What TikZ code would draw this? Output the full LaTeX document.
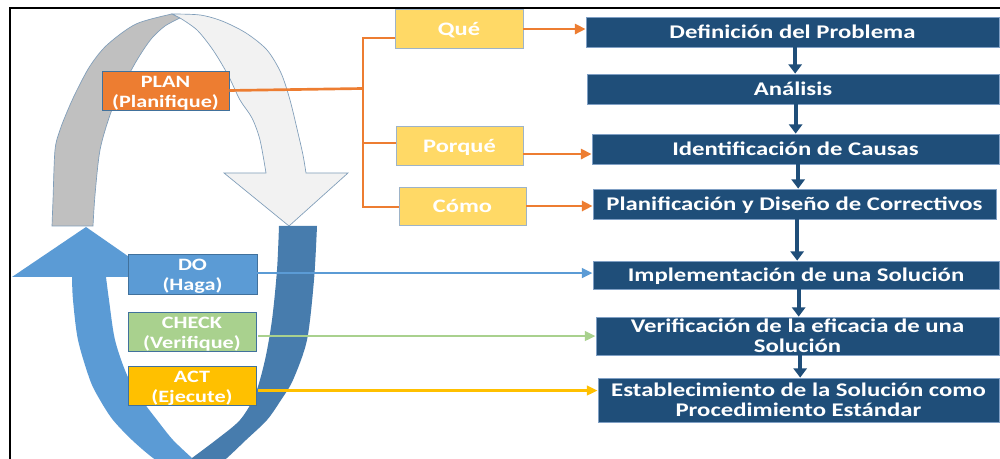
\documentclass[tikz,border=0pt]{standalone}
\usepackage{fontspec}
\setmainfont{Carlito}[FakeStretch=1.28]
\usetikzlibrary{arrows.meta,calc}
\definecolor{orng}{HTML}{ED7D31}
\definecolor{ylw}{HTML}{FFD966}
\definecolor{yedge}{HTML}{9DB3C8}
\definecolor{navy}{HTML}{1F4E79}
\definecolor{navyedge}{HTML}{7F9FC4}
\definecolor{dofill}{HTML}{5B9BD5}
\definecolor{chkfill}{HTML}{A9D18E}
\definecolor{actfill}{HTML}{FFC000}
\definecolor{pedge}{HTML}{41719C}
\definecolor{archgrey}{HTML}{C0C0C0}
\definecolor{archlight}{HTML}{F2F2F2}
\definecolor{archline}{HTML}{7F9DB9}
\definecolor{ulight}{HTML}{5B9BD5}
\definecolor{udark}{HTML}{477CAD}
\newcommand{\topst}{\rule{0pt}{12pt}}
\begin{document}
\begin{tikzpicture}[x=0.75pt,y=-0.75pt,
  bsize/.style 2 args={minimum width=#1*0.75pt,minimum height=#2*0.75pt},
  navybox/.style={fill=navy,draw=navyedge,line width=0.6pt,text=white,align=center,inner sep=0pt,
    font=\bfseries\fontsize{14.5}{15}\selectfont},
  oneline/.style={text height=12.5pt,text depth=2.5pt},
  ybox/.style={fill=ylw,draw=yedge,line width=0.6pt,text=white,align=center,inner sep=0pt,
    font=\bfseries\fontsize{14.3}{16}\selectfont,oneline},
  pbox/.style={draw=pedge,line width=0.6pt,text=white,align=center,inner sep=0pt,
    font=\bfseries\fontsize{13}{15}\selectfont},
  oline/.style={draw=orng,line width=2pt},
  oarr/.style={oline,-{Triangle[length=8pt,width=7.5pt]}},
  larr/.style={line width=2pt,-{Triangle[length=8pt,width=7pt]}},
  darr/.style={draw=navy,line width=3pt,-{Triangle[length=7pt,width=10pt]}},
]
\clip (0,0) rectangle (1000,459);
\fill[white] (0,0) rectangle (1000,459);
% frame
\draw[line width=1.5pt] (10,470) -- (10,8) -- (1005,8);

% upper arch (grey + light)
\filldraw[fill=archgrey,draw=archline,line width=0.5pt]
  plot[smooth] coordinates {(52,226) (53,200) (55,150) (60,130) (67,112) (76,92) (90,66) (107,45) (136,24) (172,14)}
  -- plot[smooth] coordinates {(180,18) (165,26) (152,38) (142,52) (133,67) (120,92) (110,115) (100,150) (95,195) (93,226)} -- cycle;
\filldraw[fill=archlight,draw=archline,line width=0.5pt]
  plot[smooth] coordinates {(172,14) (200,15) (222,21) (246,33) (267,50) (281,73) (290,100) (298,133) (303,155) (306,173)}
  -- (348,173) -- (289,226) -- (224,173)
  -- plot[smooth] coordinates {(266,173) (260,140) (252,118) (240,100) (228,75) (213,50) (197,30) (180,18)} -- cycle;

% lower U (light + dark)
\fill[ulight] (12,277) -- (86,227) -- (158,277)
  -- plot[smooth] coordinates {(106,277) (109,300) (115,340) (127,375) (142,400) (157,420) (173,440) (192,458)}
  -- (192,478)
  -- plot[smooth] coordinates {(192,478) (175,472) (153,458) (132,440) (113,420) (100,400) (90,380) (78,340) (73,300) (72,277)}
  -- cycle;
\fill[udark]
  plot[smooth] coordinates {(279,226) (277,270) (272,320) (265,360) (255,395) (240,420) (216,440) (192,458)}
  -- (192,478)
  -- plot[smooth] coordinates {(192,478) (210,472) (227,458) (246,440) (267,420) (281,400) (293,380) (307,340) (314,280) (317,226)}
  -- cycle;

% right column
\node[navybox,oneline,bsize={413}{30}] (b1) at (792.5,32) {Definición del Problema};
\node[navybox,oneline,bsize={412}{30}] (b2) at (793,89) {Análisis};
\node[navybox,oneline,bsize={407}{30}] (b3) at (795.5,149) {Identificación de Causas};
\node[navybox,oneline,bsize={403}{30}] (b4) at (794.5,204) {Planificación y Diseño de Correctivos};
\node[navybox,oneline,bsize={406}{28}] (b5) at (796,275) {Implementación de una Solución};
\node[navybox,bsize={403}{38}] (b6) at (797.5,336) {Verificación de la eficacia de una\\Solución};
\node[navybox,bsize={401}{44}] (b7) at (798.5,400) {Establecimiento de la Solución como\\Procedimiento Estándar};

% yellow boxes
\node[ybox,bsize={128}{39}] (que) at (459,28.5) {Qué};
\node[ybox,bsize={127}{39}] (porque) at (459.5,145.5) {Porqué};
\node[ybox,bsize={127}{38}] (como) at (462.5,206) {Cómo};

% PDCA boxes
\node[pbox,fill=orng,bsize={127}{39}] (plan) at (165.5,90.5) {\topst PLAN\\(Planifique)};
\node[pbox,fill=dofill,bsize={129}{40}] (do) at (192.5,274) {\topst DO\\(Haga)};
\node[pbox,fill=chkfill,bsize={128}{39}] (check) at (192,331.5) {\topst CHECK\\(Verifique)};
\node[pbox,fill=actfill,bsize={128}{38}] (act) at (192,386) {\topst ACT\\(Ejecute)};

% orange bracket
\coordinate (j) at (363,88.5);
\coordinate (jq) at (363,38);
\coordinate (jp) at (363,143);
\coordinate (jc) at (363,207);
\draw[oline] (plan.east) -- (j);
\draw[oline] (jq -| que.west) -- (jq) -- (jc) -- (jc -| como.west);
\draw[oline] (jp) -- (jp -| porque.west);

% orange arrows
\coordinate (qs) at ([yshift=-0.4pt]que.east);
\draw[oarr] (qs) -- (qs -| b1.west);
\coordinate (ps) at ([yshift=-6.4pt]porque.east);
\draw[oarr] (ps) -- (ps -| b3.west);
\draw[oarr] (como.east) -- (como.east -| b4.west);

% PDCA lines
\coordinate (ds) at ([yshift=0.7pt]do.east);
\draw[larr,draw=dofill] (ds) -- (ds -| b5.west);
\coordinate (cs) at ([xshift=1.5pt,yshift=-3.4pt]check.east);
\draw[larr,draw=chkfill] (cs) -- (cs -| b6.west);
\coordinate (as) at ([xshift=1.5pt,yshift=-3.4pt]act.east);
\draw[larr,draw=actfill] (as) -- (as -| b7.west);

% down arrows
\foreach \a/\b in {b1/b2,b2/b3,b3/b4,b4/b5,b5/b6,b6/b7}{
  \path (\a.south) ++(2pt,0) coordinate (s);
  \draw[darr] (s) -- (s |- \b.north);
}
\end{tikzpicture}
\end{document}
